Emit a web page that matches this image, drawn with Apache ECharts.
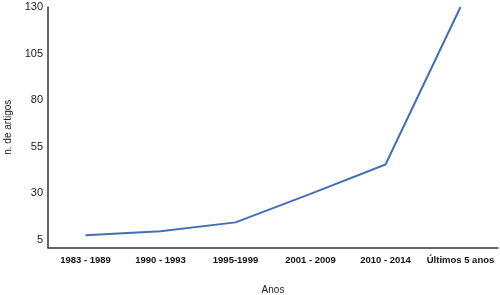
<!DOCTYPE html>
<html>
<head>
<meta charset="utf-8">
<script src="https://cdn.jsdelivr.net/npm/echarts@6/dist/echarts.min.js"></script>
<style>
  html, body { margin: 0; padding: 0; background: #fff; }
  #chart { width: 500px; height: 295px; }
</style>
</head>
<body>
<div id="chart"></div>
<script>
// dados
const categorias = ['1983 - 1989', '1990 - 1993', '1995-1999', '2001 - 2009', '2010 - 2014', 'Últimos 5 anos'];
const artigos = [7.4, 9.5, 14.3, 29.6, 45.4, 130];
const yTicks = [5, 30, 55, 80, 105, 130];

const fonte = 'Liberation Sans, Arial, sans-serif';
const myChart = echarts.init(document.getElementById('chart'));

const option = {
  animation: false,
  grid: { left: 48, right: 2, top: 7, bottom: 47.5, outerBoundsMode: 'none', containLabel: false },
  xAxis: {
    type: 'category',
    data: categorias,
    boundaryGap: true,
    name: 'Anos',
    nameLocation: 'middle',
    nameGap: 38,
    nameTextStyle: { fontFamily: fonte, fontSize: 10, color: '#222' },
    axisLine: { lineStyle: { color: '#333', width: 1.5 } },
    axisTick: { show: false },
    axisLabel: {
      interval: 0,
      margin: 8,
      fontFamily: fonte,
      fontWeight: 'bold',
      fontSize: 9.5,
      color: '#111'
    }
  },
  yAxis: {
    type: 'value',
    min: 0.8,
    max: 130,
    name: 'n. de artigos',
    nameLocation: 'middle',
    nameGap: 35,
    nameTextStyle: { fontFamily: fonte, fontSize: 10, color: '#222' },
    axisLine: { show: true, lineStyle: { color: '#333', width: 1.5 } },
    axisTick: { show: false },
    splitLine: { show: false },
    axisLabel: {
      customValues: yTicks,
      margin: 5,
      fontFamily: fonte,
      fontSize: 11,
      color: '#222'
    }
  },
  series: [{
    type: 'line',
    data: artigos,
    showSymbol: false,
    symbol: 'none',
    lineStyle: { color: '#4370B5', width: 2 }
  }]
};

myChart.setOption(option);
</script>
</body>
</html>
